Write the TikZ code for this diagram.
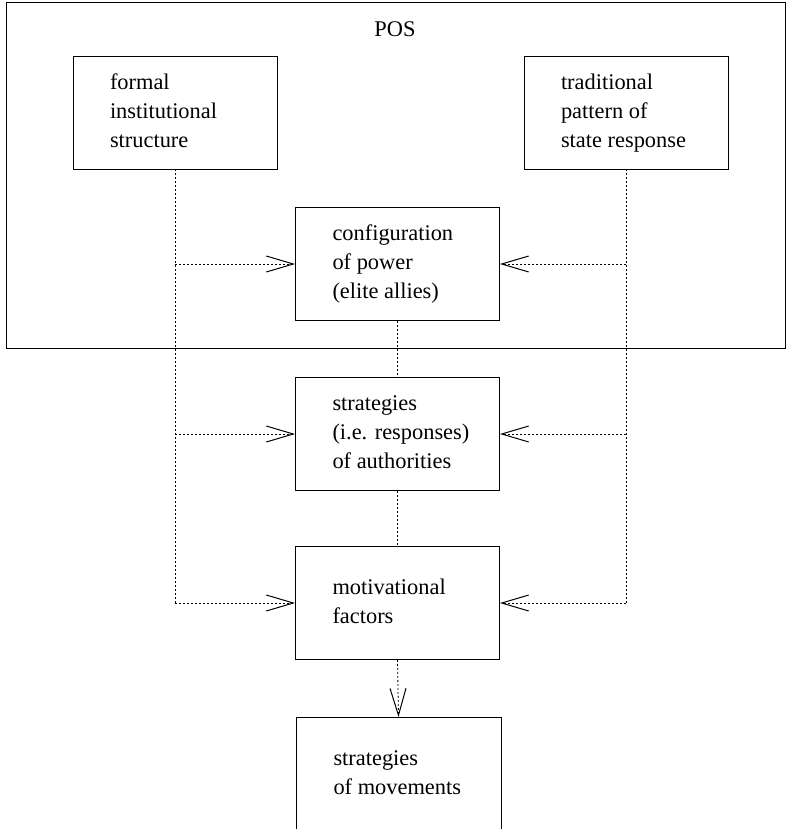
\documentclass[tikz,border=0pt]{standalone}
\usepackage{fontspec}
\setmainfont{Liberation Serif}
\usetikzlibrary{arrows.meta}
\newcommand{\btxt}[1]{\makebox[130pt][l]{\begin{tabular}{@{}l@{}}#1\end{tabular}}}
\begin{document}
\begin{tikzpicture}[x=1pt,y=-1pt,
  box/.style={draw,line width=0.9pt,minimum height=113pt,minimum width=204pt,
    inner xsep=0pt,inner ysep=0pt,font=\fontsize{22.4}{29}\selectfont},
  conn/.style={line width=0.8pt,dash pattern=on 2pt off 2pt},
  tip/.style={-{Straight Barb[length=27pt,width=16pt,line width=1pt]}}]
\useasboundingbox (0,0) rectangle (789,829);
\draw[line width=1pt] (6,3) rectangle (785,348);
\node[font=\fontsize{22.4}{29}\selectfont] (pos) at (395,29) {POS};
\node[box] (formal) at (175,112.5) {\btxt{formal\\institutional\\structure}};
\node[box] (trad) at (626,112.5) {\btxt{traditional\\pattern of\\state response}};
\node[box] (config) at (397.5,264) {\btxt{configuration\\of power\\(elite allies)}};
\node[box] (strat) at (397.5,434) {\btxt{strategies\\(i.e. responses)\\of authorities}};
\node[box] (motiv) at (397.5,603) {\btxt{motivational\\factors}};
\node[box,draw=none] (moves) at (398.5,774) {\btxt{strategies\\of movements}};
\draw[line width=0.9pt] (moves.south west) -- (moves.north west) -- (moves.north east) -- (moves.south east);
\coordinate (lc) at (formal.south |- motiv.west);
\coordinate (rc) at (trad.south |- motiv.east);
\draw[conn] (formal.south) -- (lc);
\draw[conn] (trad.south) -- (rc);
\draw[conn,tip] (lc) -- (motiv.west);
\draw[conn,tip] (rc) -- (motiv.east);
\draw[conn,tip] (formal.south |- config.west) -- (config.west);
\draw[conn,tip] (trad.south |- config.east) -- (config.east);
\draw[conn,tip] (formal.south |- strat.west) -- (strat.west);
\draw[conn,tip] (trad.south |- strat.east) -- (strat.east);
\draw[conn] (config.south) -- (strat.north);
\draw[conn] (strat.south) -- (motiv.north);
\draw[conn,tip] (motiv.south) -- (moves.north);
\end{tikzpicture}
\end{document}
